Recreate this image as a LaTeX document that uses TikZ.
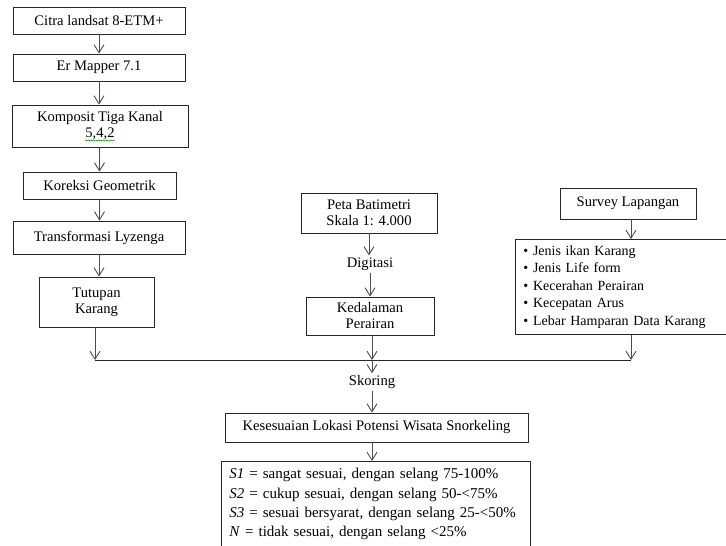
\documentclass[tikz,border=0pt]{standalone}
\usepackage{fontspec}
\setmainfont{Liberation Serif}
\usetikzlibrary{arrows.meta,decorations.pathmorphing}
\begin{document}
\begin{tikzpicture}[x=1pt,y=-1pt,
  box/.style={draw=black!85, line width=0.9pt, inner sep=1pt, align=center,
    font=\fontsize{14.6}{16}\selectfont},
  arr/.style={draw=black!70, line width=0.9pt, -{Straight Barb[length=8pt,width=10pt]}},
  joinline/.style={draw=black!85, line width=1pt},
  lbl/.style={inner sep=2pt, font=\fontsize{14.6}{16}\selectfont},
  squig/.style={draw=green!55!black, line width=0.5pt, decorate,
    decoration={snake, amplitude=0.6pt, segment length=2.5pt}}]
\useasboundingbox (0,0) rectangle (726,546);
\clip (0,0) rectangle (726,546);
% left column
\node[box, minimum width=172pt, minimum height=27pt] (b1) at (99,20.5) {Citra landsat 8-ETM+};
\node[box, minimum width=172pt, minimum height=27pt] (b2) at (99,67.5) {Er Mapper 7.1};
\node[box, minimum width=176pt, minimum height=42pt] (b3) at (100,126) {Komposit Tiga Kanal\\5,4,2};
\node[box, minimum width=153pt, minimum height=27pt] (b4) at (99.5,185.5) {Koreksi Geometrik};
\node[box, minimum width=172pt, minimum height=33pt] (b5) at (99,237.5) {Transformasi Lyzenga};
\node[box, minimum width=115pt, minimum height=50pt] (b6) at (96.5,302) {Tutupan\\Karang};
% middle column
\node[box, minimum width=136pt, minimum height=40pt] (peta) at (369,213) {Peta Batimetri\\Skala 1: 4.000};
\node[lbl] (dig) at (370,264) {Digitasi};
\node[box, minimum width=128pt, minimum height=38pt] (ked) at (370,316) {Kedalaman\\Perairan};
% right column
\node[box, minimum width=136pt, minimum height=31pt] (sur) at (628,203.5) {Survey Lapangan};
\node[box, anchor=north west, align=left, text width=220pt, inner xsep=8pt, inner ysep=6pt,
  font=\fontsize{14}{17.5}\selectfont] (list) at (515,239)
  {• Jenis ikan Karang\\• Jenis Life form\\• Kecerahan Perairan\\• Kecepatan Arus\\• Lebar Hamparan Data Karang};
% bottom
\coordinate (jl) at (95,360);
\coordinate (jm) at (372,360);
\coordinate (jr) at (631,360);
\node[lbl] (sko) at (372,382) {Skoring};
\node[box, minimum width=303pt, minimum height=29pt] (kes) at (376.5,427.5) {Kesesuaian Lokasi Potensi Wisata Snorkeling};
\node[box, anchor=north west, align=left, text width=293pt, inner xsep=8pt, inner ysep=7pt,
  font=\fontsize{15}{19.3}\selectfont] (crit) at (221,461)
  {\textit{S1} = sangat sesuai, dengan selang 75-100\%\\
   \textit{S2} = cukup sesuai, dengan selang 50-<75\%\\
   \textit{S3} = sesuai bersyarat, dengan selang 25-<50\%\\
   \textit{N} = tidak sesuai, dengan selang <25\%\rule[-40pt]{0pt}{0pt}};
% squiggle under 5,4,2
\draw[squig] ([xshift=-15pt,yshift=7pt]b3.south) -- ([xshift=15pt,yshift=7pt]b3.south);
% connectors
\draw[arr] (b1) -- (b2);
\draw[arr] (b2.south) -- (b2.south |- b3.north);
\draw[arr] (b4.north |- b3.south) -- (b4.north);
\draw[arr] (b4.south) -- (b4.south |- b5.north);
\draw[arr] (b5.south) -- (b5.south |- b6.north);
\draw[arr] (jl |- b6.south) -- (jl);
\draw[arr] (peta.south) -- (peta.south |- dig.north);
\draw[arr] (dig.south) -- (dig.south |- ked.north);
\draw[arr] (jm |- ked.south) -- (jm);
\draw[arr] (jr |- sur.south) -- (jr |- list.north);
\draw[arr] (jr |- list.south) -- (jr);
\draw[joinline] (jl) -- (jr);
\draw[arr] (jm) -- (sko.north);
\draw[arr] (sko.south) -- (sko.south |- kes.north);
\draw[arr] (jm |- kes.south) -- (jm |- crit.north);
\end{tikzpicture}
\end{document}
